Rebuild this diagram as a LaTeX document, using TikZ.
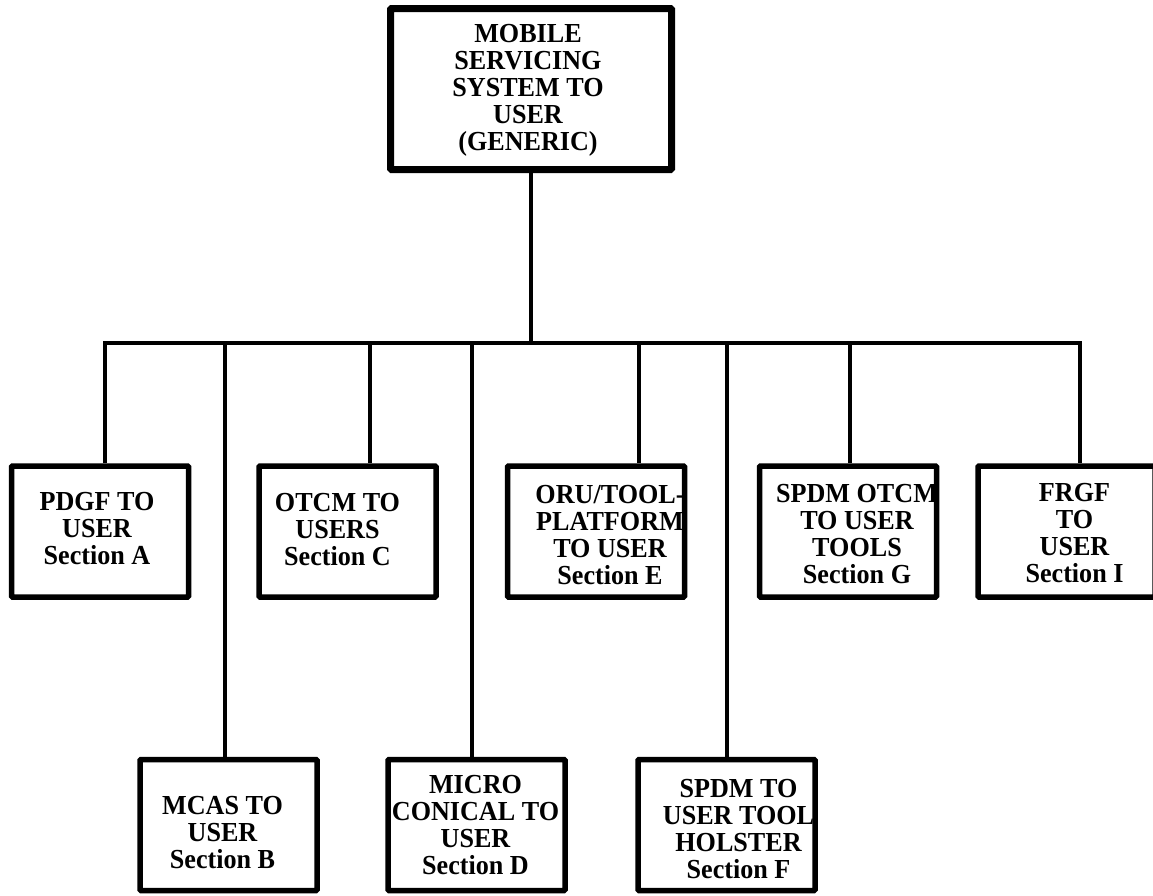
\documentclass[tikz,border=0pt]{standalone}
\usepackage{fontspec}
\setmainfont{Liberation Serif}[FakeStretch=0.95]
\begin{document}
\begin{tikzpicture}[x=1pt,y=-1pt,
  unitbox/.style={draw,line width=5.5pt,rounded corners=1pt,inner sep=0pt,minimum width=177pt,minimum height=131pt},
  topbox/.style={unitbox,line width=7pt,minimum width=281pt,minimum height=161pt},
  unittext/.style={align=center,inner sep=0pt,font=\fontsize{27.5}{27}\selectfont\bfseries},
  link/.style={line width=4.5pt}]
\useasboundingbox (0,0) rectangle (1153,895);

% le systeme
\node[topbox] (top) at (531,89) {};
\node[unittext] (txtTop) at ([xshift=-3pt,yshift=-1pt]top.center) {MOBILE\\SERVICING\\SYSTEM TO\\USER\\(GENERIC)};

% premiere rangee
\node[unitbox] (boxA) at (100,531.5) {};
\node[unitbox] (boxC) at (347.5,531.5) {};
\node[unitbox] (boxE) at (596,531.5) {};
\node[unitbox] (boxG) at (848,531.5) {};
\node[unitbox] (boxI) at (1066.5,531.5) {};
\node[unittext] (txtA) at ([xshift=-3pt,yshift=3pt]boxA.center) {PDGF TO\\USER\\Section A};
\node[unittext] (txtC) at ([xshift=-10pt,yshift=2pt]boxC.center) {OTCM TO\\USERS\\Section C};
\node[unittext] (txtE) at ([xshift=14pt,yshift=-4pt]boxE.center) {ORU/TOOL-\\PLATFORM\\TO USER\\Section E};
\node[unittext] (txtG) at ([xshift=9pt,yshift=-3pt]boxG.center) {SPDM OTCM\\TO USER\\TOOLS\\Section G};
\node[unittext] (txtI) at ([xshift=8pt,yshift=-2pt]boxI.center) {FRGF\\TO\\USER\\Section I};

% deuxieme rangee
\node[unitbox] (boxB) at (228.5,825) {};
\node[unitbox] (boxD) at (476.5,825) {};
\node[unitbox] (boxF) at (726.5,825) {};
\node[unittext] (txtB) at ([xshift=-6pt,yshift=-8pt]boxB.center) {MCAS TO\\USER\\Section B};
\node[unittext] (txtD) at ([xshift=-1pt]boxD.center) {MICRO\\CONICAL TO\\USER\\Section D};
\node[unittext] (txtF) at ([xshift=12pt,yshift=-4pt]boxF.center) {SPDM TO\\USER TOOL\\HOLSTER\\Section F};

% les liaisons
\foreach \n/\x in {A/105,B/225,C/370,D/472,E/639,F/727,G/850,I/1080}
  \coordinate (bus\n) at (\x,343);
\draw[link] (top.south) -- (top.south |- busA);
\draw[link] (busA |- boxA.north) -- (busA) -- (busI) -- (busI |- boxI.north);
\foreach \n in {B,C,D,E,F,G}
  \draw[link] (bus\n) -- (bus\n |- box\n.north);

\end{tikzpicture}
\end{document}
